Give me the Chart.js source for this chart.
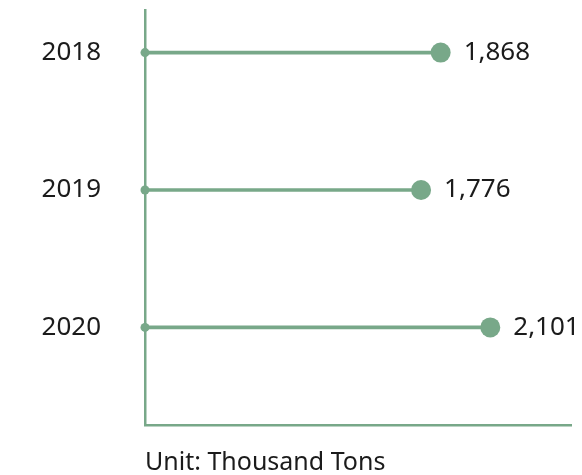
<!DOCTYPE html>
<html>
<head>
<meta charset="utf-8">
<script src="https://cdn.jsdelivr.net/npm/chart.js@4/dist/chart.umd.min.js"></script>
<style>
  html, body { margin: 0; padding: 0; background: #fff; }
  #wrap { width: 582px; height: 475px; position: relative; }
</style>
</head>
<body>
<div id="wrap"><canvas id="lollipop"></canvas></div>
<script>
const years = ["2018", "2019", "2020"];
const tons = [1868, 1776, 2101];
const xMin = 480;
const xMax = 2480;

const green = "rgb(120,168,137)";
const ink = "#1b1b1b";
const fontFamily = "'Noto Sans', 'Open Sans', sans-serif";

const points = tons.map((v, i) => ({ x: v, y: i }));
const stems = tons.map((v, i) => ({ x: xMin, y: i }));

// value text to the right of each dot
const valueLabels = {
  id: "valueLabels",
  afterDatasetsDraw(chart) {
    const { ctx, scales } = chart;
    ctx.save();
    ctx.font = "26px " + fontFamily;
    ctx.fillStyle = ink;
    ctx.textBaseline = "middle";
    ctx.textAlign = "left";
    tons.forEach((v, i) => {
      const x = scales.x.getPixelForValue(v);
      const y = scales.y.getPixelForValue(i);
      ctx.fillText(v.toLocaleString("en-US"), x + 23, y);
    });
    ctx.restore();
  }
};

const ctx = document.getElementById("lollipop").getContext("2d");
new Chart(ctx, {
  type: "bar",
  data: {
    datasets: [
      {
        type: "bar",
        data: points,
        backgroundColor: green,
        barThickness: 3,
        order: 3
      },
      {
        type: "line",
        data: points,
        showLine: false,
        pointRadius: 10,
        pointHoverRadius: 10,
        pointBackgroundColor: green,
        pointBorderWidth: 0,
        clip: false,
        order: 2
      },
      {
        type: "line",
        data: stems,
        showLine: false,
        pointRadius: 4.5,
        pointHoverRadius: 4.5,
        pointBackgroundColor: green,
        pointBorderWidth: 0,
        clip: false,
        order: 1
      }
    ]
  },
  options: {
    indexAxis: "y",
    responsive: true,
    maintainAspectRatio: false,
    animation: false,
    events: [],
    layout: { padding: { top: 10, right: 11, left: 0, bottom: 0 } },
    plugins: {
      legend: { display: false },
      tooltip: { enabled: false }
    },
    scales: {
      x: {
        type: "linear",
        min: xMin,
        max: xMax,
        offset: false,
        grid: { display: false, drawTicks: false },
        border: { display: true, color: green, width: 2.5 },
        ticks: { display: false },
        title: {
          display: true,
          text: "Unit: Thousand Tons",
          align: "start",
          color: ink,
          font: { family: fontFamily, size: 25, lineHeight: 1 },
          padding: { top: 25, bottom: 0 }
        }
      },
      y: {
        type: "linear",
        reverse: true,
        offset: false,
        min: -0.31,
        max: 2.71,
        grid: { display: false, drawTicks: false },
        border: { display: true, color: green, width: 2.5 },
        afterBuildTicks(scale) {
          scale.ticks = years.map((_, i) => ({ value: i }));
        },
        afterFit(scale) {
          // fixed gutter for the year labels; no extra room above/below
          scale.width = 145;
          scale.paddingTop = 0;
          scale.paddingBottom = 0;
        },
        ticks: {
          color: ink,
          padding: 44,
          font: { family: fontFamily, size: 26 },
          callback: (v) => years[v]
        }
      }
    }
  },
  plugins: [valueLabels]
});
</script>
</body>
</html>
